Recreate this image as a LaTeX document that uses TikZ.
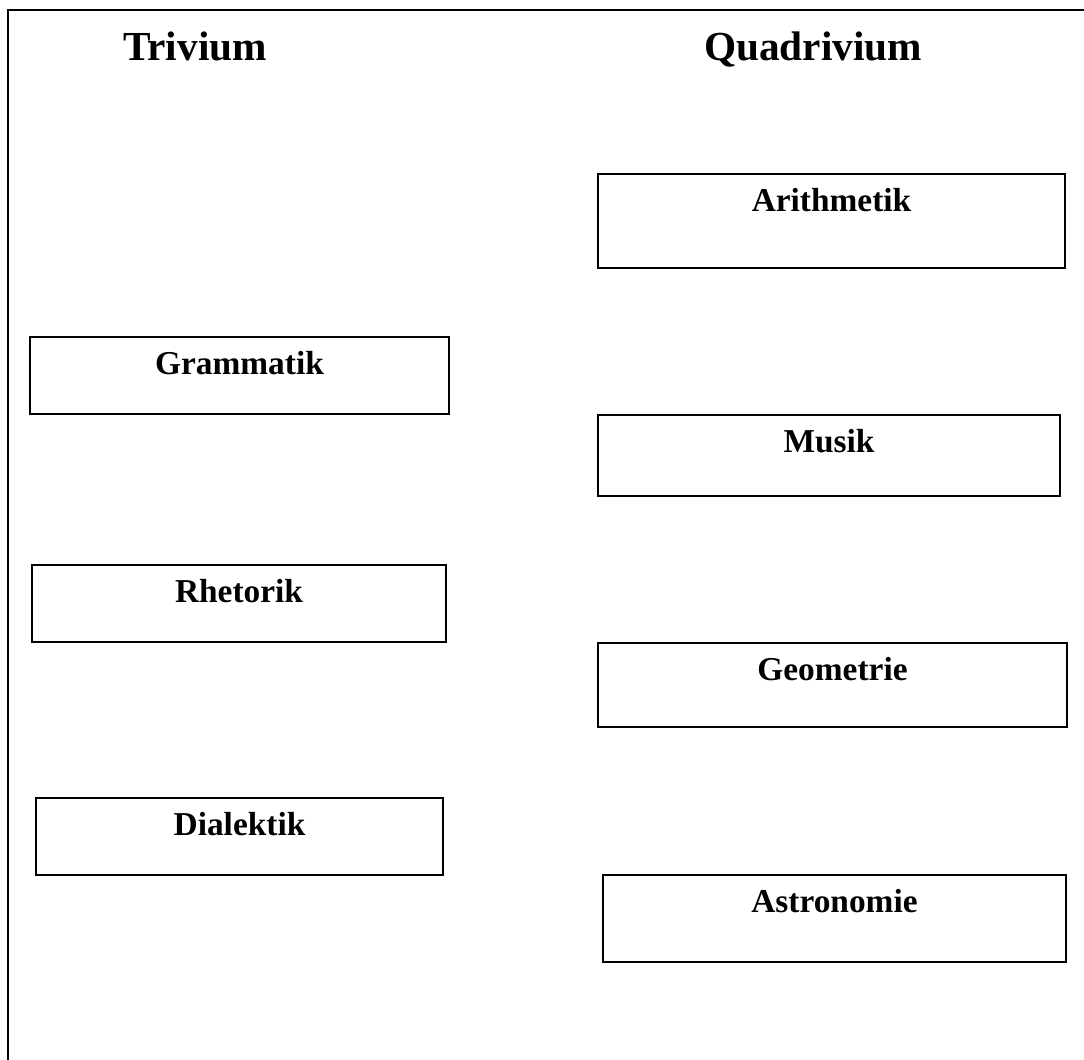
\documentclass[tikz,border=0pt]{standalone}
\usepackage{fontspec}
\setmainfont{Liberation Serif}
\usetikzlibrary{positioning}

\begin{document}
\begin{tikzpicture}[
    every node/.style={font=\bfseries},
    head/.style={font=\fontsize{23.5}{27}\selectfont\bfseries, anchor=base},
    subj/.style={font=\fontsize{19}{23}\selectfont\bfseries, anchor=north, yshift=-0.18cm},
    box/.style={rectangle, draw=black, line width=1.4pt, inner sep=0pt},
]

\useasboundingbox (0, 0) rectangle (21.68, 21.20);

% frame, open at right and bottom
\coordinate (frameBL) at (0.16, 0);
\coordinate (frameTL) at (0.16, 21.00);
\coordinate (frameTR) at (21.68, 21.00);
\draw[line width=1.4pt] (frameBL) -- (frameTL) -- (frameTR);

% ================================================================ left: trivium
\node[head] (trivium) at (3.90, 19.98) {Trivium};

\foreach \name/\x/\y/\w in {Grammatik/4.79/13.69/8.38, Rhetorik/4.78/9.13/8.28, Dialektik/4.79/4.47/8.14}{
    \node[box, minimum width=\w cm, minimum height=1.54cm,
          label={[subj]north:\name}] (\name) at (\x, \y) {};
}

% ================================================================ right: quadrivium
\node[head] (quadrivium) at (16.26, 19.98) {Quadrivium};

\foreach \name/\x/\y/\w/\h in {Arithmetik/16.63/16.78/9.34/1.88, Musik/16.58/12.09/9.24/1.62,
                               Geometrie/16.65/7.50/9.38/1.68, Astronomie/16.69/2.83/9.26/1.74}{
    \node[box, minimum width=\w cm, minimum height=\h cm,
          label={[subj]north:\name}] (\name) at (\x, \y) {};
}

\end{tikzpicture}
\end{document}
